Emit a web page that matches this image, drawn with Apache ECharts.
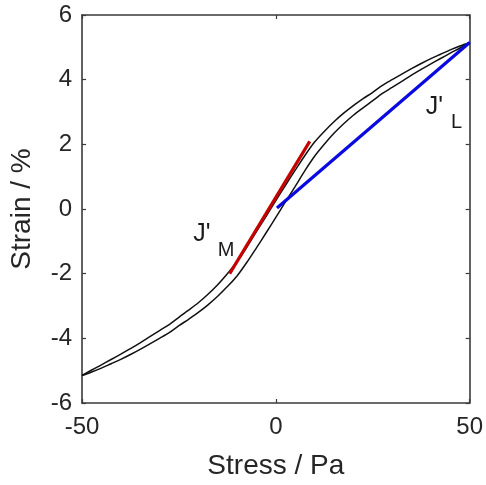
<!DOCTYPE html>
<html>
<head>
<meta charset="utf-8">
<script src="https://cdn.jsdelivr.net/npm/echarts@6/dist/echarts.min.js"></script>
<style>html,body{margin:0;padding:0;background:#fff}#c{width:486px;height:485px}</style>
</head>
<body>
<div id="c"></div>
<script>
// Stress values (Pa) at which both loop branches are sampled
var stress = [-50,-47.5,-45,-42.5,-40,-37.5,-35,-32.5,-30,-27.5,-25,-22.5,-20,-17.5,-15,-12.5,-10,-7.5,-5,-2.5,0,2.5,5,7.5,10,12.5,15,17.5,20,22.5,25,27.5,30,32.5,35,37.5,40,42.5,45,47.5,50];
// Upper branch (unloading) strain %
var strainUpper = [-5.15,-4.98,-4.82,-4.655,-4.49,-4.32,-4.14,-3.95,-3.76,-3.575,-3.35,-3.13,-2.9,-2.635,-2.34,-2.0,-1.63,-1.185,-0.7,-0.225,0.26,0.735,1.2,1.655,2.07,2.4,2.7,2.965,3.2,3.41,3.61,3.825,4.0,4.17,4.34,4.5,4.65,4.785,4.92,5.04,5.15];
// Lower branch (loading) strain %
var strainLower = [-5.15,-5.04,-4.92,-4.785,-4.65,-4.5,-4.34,-4.17,-4.0,-3.825,-3.61,-3.41,-3.2,-2.965,-2.7,-2.4,-2.07,-1.655,-1.2,-0.735,-0.26,0.225,0.7,1.185,1.63,2.0,2.34,2.635,2.9,3.13,3.35,3.575,3.76,3.95,4.14,4.32,4.49,4.655,4.82,4.98,5.15];
// J'_M tangent segment
var jmStress = [-11.9, 8.75];
var jmStrain = [-2.0, 2.09];
// J'_L chord segment
var jlStress = [0.3, 50];
var jlStrain = [0.03, 5.15];
var xTicks = [-50, 0, 50];
var yTicks = [-6, -4, -2, 0, 2, 4, 6];

function pairs(xs, ys){ return xs.map(function(x,i){ return [x, ys[i]]; }); }

var FONT = '"Liberation Sans", Arial, Helvetica, sans-serif';
var AX = '#3a3a3a';
var chart = echarts.init(document.getElementById('c'), null, {renderer:'canvas'});

function axisCommon(extra){
  return Object.assign({
    type:'value',
    axisLine:{show:true, onZero:false, lineStyle:{color:AX, width:1.6}},
    axisTick:{show:true, inside:true, length:4, lineStyle:{color:AX, width:1.2}},
    splitLine:{show:false},
    axisLabel:{show:false}
  }, extra);
}

chart.setOption({
  animation:false,
  grid:{left:79, right:14, top:15, bottom:78, containLabel:false},
  xAxis:[
    axisCommon({position:'bottom', min:xTicks[0], max:xTicks[xTicks.length-1], interval:50,
      axisLabel:{show:true, color:'#262626', fontSize:24, fontFamily:FONT, margin:12},
      name:'Stress / Pa', nameLocation:'middle', nameGap:49,
      nameTextStyle:{color:'#262626', fontSize:28, fontFamily:FONT}}),
    axisCommon({position:'top', min:-50, max:50, interval:50})
  ],
  yAxis:[
    axisCommon({position:'left', min:yTicks[0], max:yTicks[yTicks.length-1], interval:2,
      axisLabel:{show:true, color:'#262626', fontSize:24, fontFamily:FONT, margin:10},
      name:'Strain / %', nameLocation:'middle', nameGap:46,
      nameTextStyle:{color:'#262626', fontSize:28, fontFamily:FONT}}),
    axisCommon({position:'right', min:-6, max:6, interval:2})
  ],
  series:[
    {type:'line', data:pairs(stress, strainUpper), showSymbol:false, smooth:0.3,
     lineStyle:{color:'#111', width:1.5}, z:2},
    {type:'line', data:pairs(stress, strainLower), showSymbol:false, smooth:0.3,
     lineStyle:{color:'#111', width:1.5}, z:2},
    {type:'line', data:pairs(jmStress, jmStrain), showSymbol:false,
     lineStyle:{color:'#c40000', width:3.2}, z:3},
    {type:'line', data:pairs(jlStress, jlStrain), showSymbol:false,
     lineStyle:{color:'#0a0ae0', width:3.2}, z:4}
  ]
});

// annotation anchors (data coordinates)
var notes = [
  {text:"J'", at:[-21.3, -0.78], size:25},
  {text:'M',  at:[-15.0, -1.27], size:20},
  {text:"J'", at:[38.7, 3.16], size:25},
  {text:'L',  at:[45.2, 2.68], size:20}
];
chart.setOption({
  graphic: notes.map(function(n){
    var p = chart.convertToPixel({xAxisIndex:0, yAxisIndex:0}, n.at);
    return {type:'text', x:p[0], y:p[1], z:10,
      style:{text:n.text, fill:'#1a1a1a', font: n.size + 'px ' + FONT, textAlign:'left', textVerticalAlign:'middle'}};
  })
});
</script>
</body>
</html>
